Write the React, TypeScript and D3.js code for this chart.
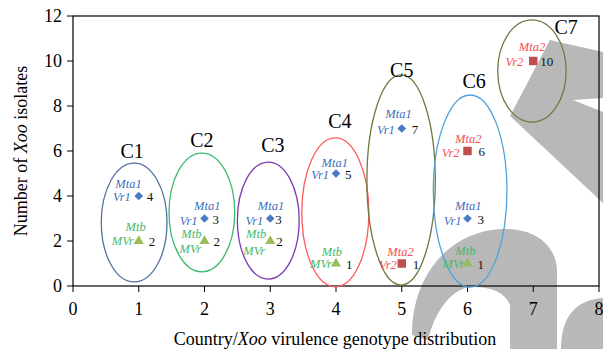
import React from 'react';
import * as d3 from 'd3';

// cluster ellipses, in data units
const clusterNames = ['C1', 'C2', 'C3', 'C4', 'C5', 'C6', 'C7'];
const clusterCx = [0.93, 1.96, 2.97, 3.99, 4.99, 6.04, 6.98];
const clusterCy = [2.82, 3.27, 2.91, 3.27, 4.71, 4.22, 9.56];
const clusterRx = [0.5, 0.5, 0.47, 0.51, 0.52, 0.56, 0.52];
const clusterRy = [2.64, 2.64, 2.6, 3.31, 4.67, 4.27, 2.27];
const clusterLabelX = [0.9, 1.96, 3.04, 4.06, 5.0, 6.1, 7.5];
const clusterLabelY = [5.69, 6.18, 5.96, 7.02, 9.29, 8.8, 11.2];
const clusterColors = ['#5672a0', '#3dba70', '#7a3db0', '#ff5a5a', '#6b7a3e', '#52a2dc', '#6f7d45'];

// isolates per genotype
const pointX = [1, 1, 2, 2, 3, 3, 4, 4, 5, 5, 6, 6, 6, 7];
const pointY = [4, 2, 3, 2, 3, 2, 5, 1, 7, 1, 6, 3, 1, 10];
const pointGene = ['Mta1', 'Mtb', 'Mta1', 'Mtb', 'Mta1', 'Mtb', 'Mta1', 'Mtb', 'Mta1', 'Mta2', 'Mta2', 'Mta1', 'Mtb', 'Mta2'];

const genes: Record<string, { code: string; symbol: d3.SymbolType; fill: string; text: string; size: number }> = {
  Mta1: { code: 'Vr1', symbol: d3.symbolDiamond2, fill: '#4a7bc0', text: '#3f6fb8', size: 48 },
  Mtb: { code: 'MVr', symbol: d3.symbolTriangle, fill: '#9bbb59', text: '#45b86a', size: 44 },
  Mta2: { code: 'Vr2', symbol: d3.symbolSquare, fill: '#c0504d', text: '#f4504f', size: 72 },
};

// label nudges in px: [name dx, name dy, code dx, code dy, count dx]
const labelNudge = [
  [3, -8, -8, 5, 8], [7, -10, -5, 4, 10], [16, -9, -7, 6, 8], [-3, -3, -3, 12, 9],
  [14, -9, -7, 6, 5], [-4, -3, -5, 14, 6], [12, -7, -7, 5, 9], [6, -8, -4, 4, 10],
  [10, -11, -7, 5, 10], [12, -8, -5, 5, 11], [14, -8, -8, 6, 11], [14, -9, -6, 6, 10],
  [8, -9, -3, 4, 10], [12, -10, -10, 5, 7],
];

const xTicks = [0, 1, 2, 3, 4, 5, 6, 7, 8];
const yTicks = [0, 2, 4, 6, 8, 10, 12];

const W = 603, H = 349;
const m = { left: 73, right: 4, top: 16, bottom: 63 };
const serif = '"Liberation Serif", "Times New Roman", serif';
const ts = { fontFamily: serif };

export default function App() {
  const x = d3.scaleLinear().domain([0, 8]).range([m.left, W - m.right]);
  const y = d3.scaleLinear().domain([0, 12]).range([H - m.bottom, m.top]);
  const sym = d3.symbol();

  return (
    <svg width={W} height={H} style={{ position: 'absolute', left: 0, top: 0, fontFamily: serif }}>
      {/* watermark */}
      <g fill="#b8b8b8">
        <path d="M550,40 L603,52 L603,98 L573,100 L603,112 L603,203 L510,116 Z" />
        <path d="M412,335 C412,270 455,229 505,229 C535,229 556,245 557,270 L557,349 L510,349 L510,305 C505,292 490,286 470,287 C450,290 435,312 428,340 Z" />
        <path d="M561,349 C561,316 576,300 603,298 L603,349 Z" />
      </g>
      {/* frame */}
      <rect x={x(0)} y={y(12)} width={x(8) - x(0)} height={y(0) - y(12)} fill="none" stroke="#000" strokeWidth={1.2} />
      {xTicks.map(t => (
        <g key={'x' + t}>
          <line x1={x(t)} x2={x(t)} y1={y(0)} y2={y(0) + 6} stroke="#000" />
          <text style={ts} x={x(t)} y={y(0) + 29} textAnchor="middle" fontSize={18}>{t}</text>
        </g>
      ))}
      {yTicks.map(t => (
        <g key={'y' + t}>
          <line x1={x(0) - 6} x2={x(0)} y1={y(t)} y2={y(t)} stroke="#000" />
          <text style={ts} x={x(0) - 11} y={y(t) + 6} textAnchor="end" fontSize={18}>{t}</text>
        </g>
      ))}
      <text style={ts} x={335} y={345} textAnchor="middle" fontSize={18}>
        Country/<tspan fontStyle="italic">Xoo</tspan> virulence genotype distribution
      </text>
      <text style={ts} transform={`translate(27,${(y(0) + y(12)) / 2}) rotate(-90)`} textAnchor="middle" fontSize={18}>
        Number of <tspan fontStyle="italic">Xoo</tspan> isolates
      </text>
      {/* clusters */}
      {clusterNames.map((c, i) => (
        <g key={c}>
          <ellipse
            cx={x(clusterCx[i])}
            cy={y(clusterCy[i])}
            rx={x(clusterRx[i]) - x(0)}
            ry={y(0) - y(clusterRy[i])}
            fill="none"
            stroke={clusterColors[i]}
            strokeWidth={1.3}
          />
          <text style={ts} x={x(clusterLabelX[i])} y={y(clusterLabelY[i])} textAnchor="middle" fontSize={20}>{c}</text>
        </g>
      ))}
      {/* points */}
      {pointX.map((px, i) => {
        const g = genes[pointGene[i]];
        const cx = x(px), cy = y(pointY[i]);
        const [ndx, ndy, cdx, cdy, kdx] = labelNudge[i];
        return (
          <g key={'p' + i}>
            <path d={sym.type(g.symbol).size(g.size)() as string} transform={`translate(${cx},${cy})`} fill={g.fill} />
            <text style={ts} x={cx + ndx} y={cy + ndy} textAnchor="end" fontSize={12.5} fontStyle="italic" fill={g.text}>{pointGene[i]}</text>
            <text style={ts} x={cx + cdx} y={cy + cdy} textAnchor="end" fontSize={12.5} fontStyle="italic" fill={g.text}>{g.code}</text>
            <text style={ts} x={cx + kdx} y={cy + 5} fontSize={13} fill="#111">{pointY[i]}</text>
          </g>
        );
      })}
    </svg>
  );
}
